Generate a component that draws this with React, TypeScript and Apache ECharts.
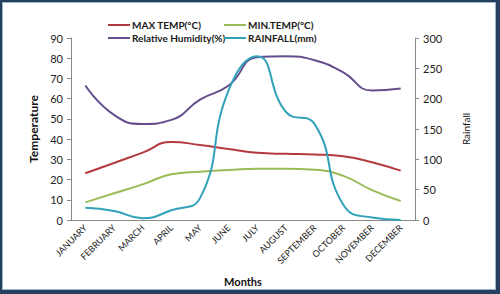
import React, { useEffect, useRef } from "react";
import * as echarts from "echarts";

const months = ["JANUARY", "FEBRUARY", "MARCH", "APRIL", "MAY", "JUNE", "JULY", "AUGUST", "SEPTEMBER", "OCTOBER", "NOVEMBER", "DECEMBER"];
const maxTemp = [23.1, 28.2, 33.3, 38.6, 37.1, 35.1, 33.2, 32.7, 32.4, 31.5, 28.6, 24.4];
const minTemp = [8.7, 13.2, 17.6, 22.6, 23.9, 24.7, 25.4, 25.4, 24.9, 21.8, 14.8, 9.4];
const humidity = [66.5, 52, 47.5, 49.5, 59.5, 66.5, 80.5, 81, 79, 73, 64, 65];
const rainfall = [20, 15, 3, 16, 36, 214, 270, 178, 158, 25, 4, 0];

const leftTicks = { min: 0, max: 90, interval: 10 };
const rightTicks = { min: 0, max: 300, interval: 50 };

const FONT = "Lato, 'Open Sans', sans-serif";

export default function App() {
  const ref = useRef<HTMLDivElement>(null);
  useEffect(() => {
    if (!ref.current) return;
    const chart = echarts.init(ref.current, null, { renderer: "svg" });
    const axisLine = { show: true, lineStyle: { color: "#8a8a8a", width: 1 } };
    const tickStyle = { show: true, length: 4, lineStyle: { color: "#8a8a8a" } };
    const mkLegend = (name: string, left: number, top: number) => ({
      data: [name],
      left,
      top,
      icon: "rect",
      itemWidth: 22,
      itemHeight: 2,
      itemGap: 0,
      padding: 0,
      textStyle: { fontFamily: FONT, fontSize: 10, fontWeight: "bold", color: "#1a1a1a", padding: [0, 0, 0, -3] },
    });
    const line = (name: string, data: number[], color: string, yAxisIndex: number) => ({
      name,
      type: "line",
      data,
      yAxisIndex,
      smooth: 0.5,
      showSymbol: false,
      symbol: "none",
      lineStyle: { color, width: 2 },
      itemStyle: { color },
    });
    chart.setOption({
      animation: false,
      textStyle: { fontFamily: FONT },
      legend: [
        mkLegend("MAX TEMP(°C)", 108, 20),
        mkLegend("MIN.TEMP(°C)", 224, 20),
        mkLegend("Relative Humidity(%)", 108, 33),
        mkLegend("RAINFALL(mm)", 224, 33),
      ],
      grid: { left: 71, right: 85, top: 38, bottom: 74 },
      xAxis: {
        type: "category",
        data: months,
        boundaryGap: true,
        axisLine,
        axisTick: { show: false },
        axisLabel: { rotate: 45, fontSize: 9, color: "#222", fontFamily: FONT, margin: 6, interval: 0 },
        name: "Months",
        nameLocation: "middle",
        nameGap: 56,
        nameTextStyle: { fontSize: 11, fontWeight: "bold", color: "#111", fontFamily: FONT },
      },
      yAxis: [
        {
          type: "value",
          ...leftTicks,
          axisLine,
          axisTick: tickStyle,
          splitLine: { show: false },
          axisLabel: { fontSize: 11, color: "#222", fontFamily: FONT, margin: 8 },
          name: "Temperature",
          nameLocation: "middle",
          nameGap: 25,
          nameRotate: 90,
          nameTextStyle: { fontSize: 12, fontWeight: "bold", color: "#111", fontFamily: FONT },
        },
        {
          type: "value",
          ...rightTicks,
          position: "right",
          axisLine,
          axisTick: tickStyle,
          splitLine: { show: false },
          axisLabel: { fontSize: 11, color: "#222", fontFamily: FONT, margin: 8 },
          name: "Rainfall",
          nameLocation: "middle",
          nameGap: 46,
          nameRotate: 90,
          nameTextStyle: { fontSize: 10, color: "#111", fontFamily: FONT },
        },
      ],
      series: [
        line("MAX TEMP(°C)", maxTemp, "#b33a3f", 0),
        line("MIN.TEMP(°C)", minTemp, "#9bbb59", 0),
        line("Relative Humidity(%)", humidity, "#644e8c", 0),
        line("RAINFALL(mm)", rainfall, "#31a2ba", 1),
      ],
    });
    return () => chart.dispose();
  }, []);
  return (
    <div style={{ position: "fixed", left: 0, top: 0, width: 500, height: 294, background: "#fff" }}>
      <div ref={ref} style={{ position: "absolute", left: 0, top: 0, width: 500, height: 294 }} />
      <div
        style={{
          position: "absolute",
          left: 0,
          top: 0,
          width: 500,
          height: 294,
          boxSizing: "border-box",
          borderLeft: "2px solid #263f5e",
          borderTop: "2px solid #263f5e",
          borderRight: "4px solid #263f5e",
          borderBottom: "4px solid #263f5e",
          boxShadow: "inset 0 0 0 1px #9db7d2",
          pointerEvents: "none",
        }}
      />
    </div>
  );
}
